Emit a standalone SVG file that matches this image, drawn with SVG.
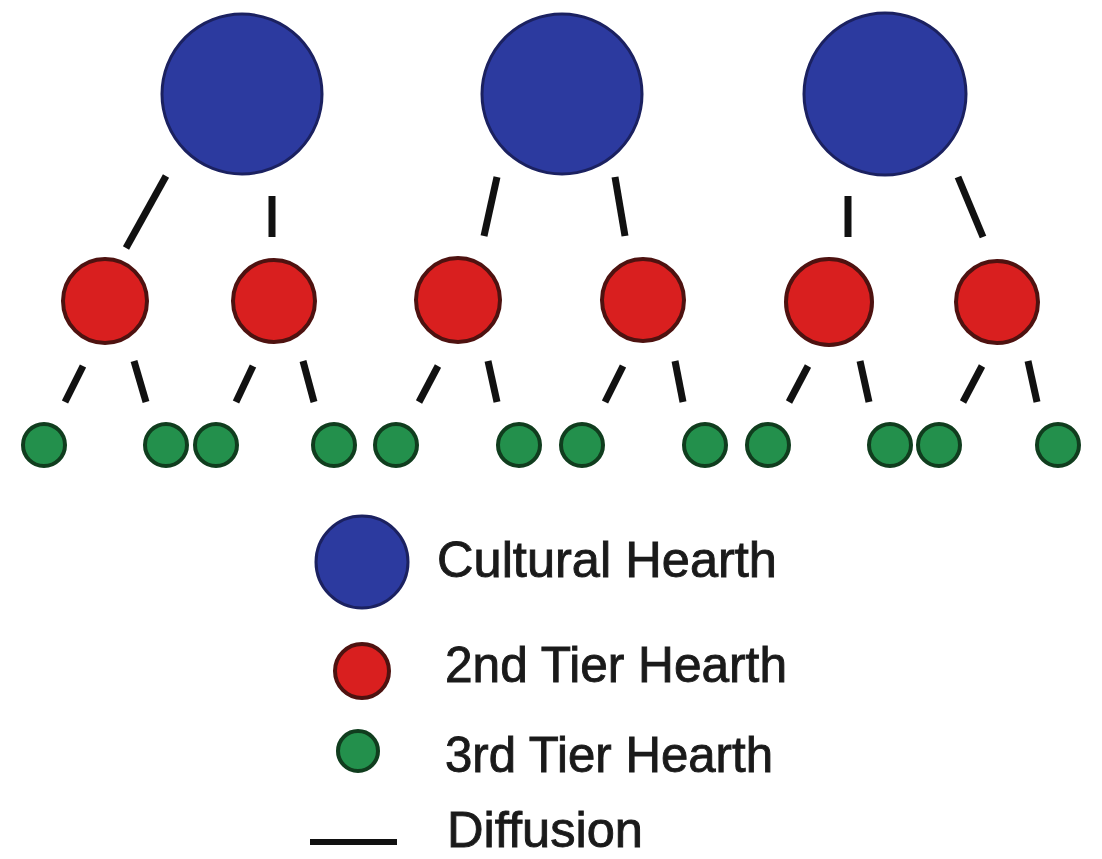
<svg xmlns="http://www.w3.org/2000/svg" width="1102" height="859" viewBox="0 0 1102 859">
<style>
.c1{fill:#2c3a9f;stroke:#1b2160;stroke-width:3}
.c2{fill:#d91f1f;stroke:#4e1210;stroke-width:4}
.c3{fill:#23904c;stroke:#103d1e;stroke-width:4}
.ln{stroke:#111;stroke-width:7;stroke-linecap:butt;fill:none}
.t{font-family:"Liberation Sans",Arial,sans-serif;font-size:50px;fill:#1a1a1a;stroke:#1a1a1a;stroke-width:0.9}
</style>
<rect width="1102" height="859" fill="#ffffff"/>
<g id="connectors">
<line class="ln" x1="166" y1="176" x2="126" y2="248"/>
<line class="ln" x1="272" y1="196" x2="272" y2="237"/>
<line class="ln" x1="497" y1="177" x2="484" y2="236"/>
<line class="ln" x1="615" y1="177" x2="625" y2="236"/>
<line class="ln" x1="848" y1="196" x2="848" y2="237"/>
<line class="ln" x1="958" y1="177" x2="983" y2="237"/>
<line class="ln" x1="83" y1="366" x2="65" y2="402"/>
<line class="ln" x1="134" y1="361" x2="146" y2="402"/>
<line class="ln" x1="253" y1="366" x2="236" y2="402"/>
<line class="ln" x1="303" y1="361" x2="314" y2="402"/>
<line class="ln" x1="438" y1="366" x2="419" y2="402"/>
<line class="ln" x1="488" y1="361" x2="497" y2="402"/>
<line class="ln" x1="623" y1="366" x2="605" y2="402"/>
<line class="ln" x1="675" y1="361" x2="683" y2="402"/>
<line class="ln" x1="808" y1="366" x2="789" y2="402"/>
<line class="ln" x1="860" y1="361" x2="869" y2="402"/>
<line class="ln" x1="982" y1="366" x2="963" y2="402"/>
<line class="ln" x1="1028" y1="361" x2="1037" y2="402"/>
</g>
<g id="hearth1"><circle class="c1" cx="242" cy="94" r="80"/></g>
<g id="hearth2"><circle class="c1" cx="562" cy="94" r="80"/></g>
<g id="hearth3"><circle class="c1" cx="885" cy="94" r="81"/></g>
<g id="tier2-1"><circle class="c2" cx="105" cy="301" r="42"/></g>
<g id="tier2-2"><circle class="c2" cx="274" cy="301" r="41"/></g>
<g id="tier2-3"><circle class="c2" cx="458" cy="300" r="42"/></g>
<g id="tier2-4"><circle class="c2" cx="643" cy="300" r="41"/></g>
<g id="tier2-5"><circle class="c2" cx="829" cy="302" r="43"/></g>
<g id="tier2-6"><circle class="c2" cx="997" cy="302" r="41"/></g>
<g id="tier3-1"><circle class="c3" cx="44" cy="445" r="21"/></g>
<g id="tier3-2"><circle class="c3" cx="166" cy="445" r="21"/></g>
<g id="tier3-3"><circle class="c3" cx="216" cy="445" r="21"/></g>
<g id="tier3-4"><circle class="c3" cx="334" cy="445" r="21"/></g>
<g id="tier3-5"><circle class="c3" cx="396" cy="445" r="21"/></g>
<g id="tier3-6"><circle class="c3" cx="519" cy="445" r="21"/></g>
<g id="tier3-7"><circle class="c3" cx="582" cy="445" r="21"/></g>
<g id="tier3-8"><circle class="c3" cx="705" cy="445" r="21"/></g>
<g id="tier3-9"><circle class="c3" cx="768" cy="445" r="21"/></g>
<g id="tier3-10"><circle class="c3" cx="890" cy="445" r="21"/></g>
<g id="tier3-11"><circle class="c3" cx="939" cy="445" r="21"/></g>
<g id="tier3-12"><circle class="c3" cx="1058" cy="445" r="21"/></g>
<g id="legend">
<circle class="c1" cx="362" cy="562" r="46"/>
<text class="t" x="437" y="577" textLength="340" lengthAdjust="spacingAndGlyphs">Cultural Hearth</text>
<circle class="c2" cx="362" cy="671" r="27"/>
<text class="t" x="445" y="682" textLength="342" lengthAdjust="spacingAndGlyphs">2nd Tier Hearth</text>
<circle class="c3" cx="358" cy="751" r="20"/>
<text class="t" x="445" y="772" textLength="328" lengthAdjust="spacingAndGlyphs">3rd Tier Hearth</text>
<line class="ln" x1="310" y1="842" x2="397" y2="842" style="stroke-width:6"/>
<text class="t" x="447" y="847" font-size="46" textLength="196" lengthAdjust="spacingAndGlyphs">Diffusion</text>
</g>
</svg>
